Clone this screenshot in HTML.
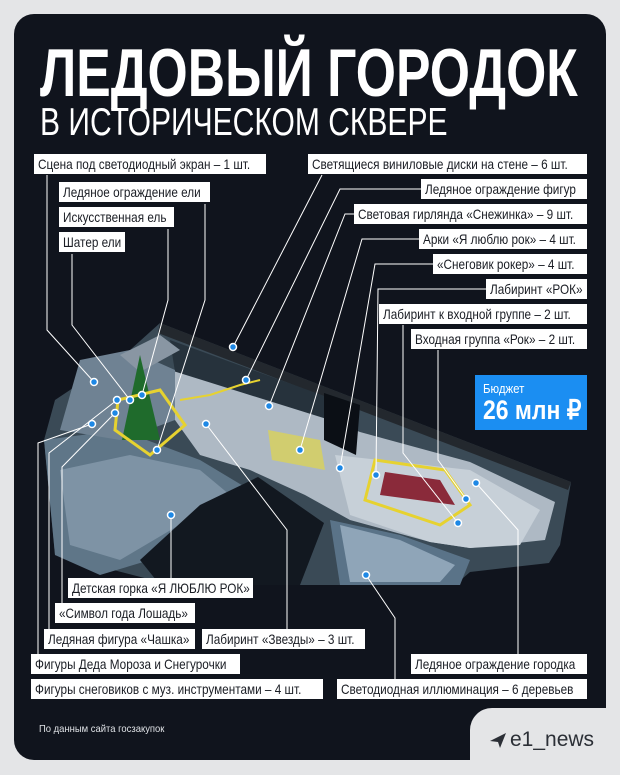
<!DOCTYPE html>
<html><head><meta charset="utf-8"><style>
*{margin:0;padding:0;box-sizing:border-box}
body{width:620px;height:775px;background:#e4e5e7;position:relative;overflow:hidden;font-family:"Liberation Sans Narrow","Liberation Sans",sans-serif}
#card{position:absolute;left:14px;top:14px;width:592px;height:746px;background:#10141d;border-radius:20px}
#notch{position:absolute;left:470px;top:708px;width:150px;height:67px;background:#e4e5e7;border-top-left-radius:22px}
.t1{position:absolute;left:40px;top:34px;font-size:68px;font-weight:bold;color:#fff;white-space:nowrap;transform-origin:0 0;transform:scaleX(0.76)}
.t2{position:absolute;left:40px;top:101px;font-size:39px;color:#fff;white-space:nowrap;transform-origin:0 0;transform:scaleX(0.77)}
.lb{position:absolute;background:#fff;color:#1a1d24;font-size:14px;height:20px;line-height:20px;padding:0 4px;white-space:nowrap;overflow:hidden}
.lb span{display:inline-block;transform-origin:0 50%;transform:scaleX(0.84)}
#bud{position:absolute;left:475px;top:375px;width:112px;height:55px;background:#1b8ef2;color:#fff;white-space:nowrap}
svg{position:absolute;left:0;top:0}
</style></head><body>
<div id="card"></div>
<div id="notch"></div>
<div class="t1">ЛЕДОВЫЙ ГОРОДОК</div>
<div class="t2">В ИСТОРИЧЕСКОМ СКВЕРЕ</div>
<svg width="620" height="775">
<polygon points="160,323 571,482 560,545 549,563 470,572 455,585 300,585 160,582 55,555 44,440 55,400 130,350" fill="#3a4a56"/>
<polygon points="44,440 120,430 200,460 250,490 150,560 100,575 55,555" fill="#5f7688"/>
<polygon points="60,470 130,455 200,470 230,495 120,560 70,545" fill="#7e93a5"/>
<polygon points="330,520 400,535 470,560 460,585 340,585" fill="#5a7388"/>
<polygon points="340,525 400,540 455,565 440,582 350,582" fill="#8fa5b8"/>
<polygon points="200,505 258,477 324,523 300,585 160,585 140,560" fill="#121820"/>
<polygon points="160,323 571,482 568,490 158,333" fill="#23282e"/>
<polygon points="170,340 330,398 328,420 175,372" fill="#26323c"/>
<polygon points="170,370 330,420 360,432 470,462 555,502 545,540 470,548 430,542 350,520 305,495 250,470 200,455 175,420" fill="#aeb9c4"/>
<polygon points="324,393 360,405 356,455 324,440" fill="#0b0f15"/>
<polygon points="80,360 130,350 175,370 175,420 120,440 60,430" fill="#6f8293"/>
<polygon points="120,355 160,335 180,350 140,372" fill="#8996a3"/>
<polygon points="335,455 470,470 540,510 520,545 470,548 430,542 350,515" fill="#c7d0d8"/>
<polygon points="140,355 160,440 122,440" fill="#1f6b2c"/>
<polygon points="118,400 160,390 185,425 150,455 115,430" fill="none" stroke="#e6d230" stroke-width="3"/>
<polygon points="375,460 445,470 470,505 440,525 365,500" fill="none" stroke="#e6d230" stroke-width="3"/>
<polygon points="385,472 440,480 455,505 380,495" fill="#8a2a3a"/>
<polygon points="268,430 320,440 325,470 272,460" fill="#d9d25a" opacity=".8"/>
<polyline points="180,400 210,395 240,385 260,380" fill="none" stroke="#e6d230" stroke-width="2"/>
<g fill="none" stroke="#fff" stroke-width="1">
<polyline points="47,175 47,330 94,382"/>
<polyline points="72,254 72,325 130,400"/>
<polyline points="168,229 168,300 142,395"/>
<polyline points="205,204 205,300 157,450"/>
<polyline points="322,175 233,347"/>
<polyline points="421,189 340,189 246,380"/>
<polyline points="354,214 345,214 269,406"/>
<polyline points="419,239 362,239 300,450"/>
<polyline points="433,264 375,264 340,468"/>
<polyline points="486,289 378,289 376,475"/>
<polyline points="403,325 403,453 458,523"/>
<polyline points="438,350 438,460 466,499"/>
<polyline points="518,655 518,530 476,483"/>
<polyline points="395,680 395,618 366,575"/>
<polyline points="171,515 171,579"/>
<polyline points="62,604 62,467 115,413"/>
<polyline points="49,630 49,453 117,400"/>
<polyline points="38,655 38,443 92,424"/>
<polyline points="287,630 287,530 206,424"/>
</g>
<g fill="#1e88e5" stroke="#fff" stroke-width="1.5">
<circle cx="94" cy="382" r="3.5"/><circle cx="130" cy="400" r="3.5"/><circle cx="142" cy="395" r="3.5"/><circle cx="157" cy="450" r="3.5"/><circle cx="233" cy="347" r="3.5"/><circle cx="246" cy="380" r="3.5"/><circle cx="269" cy="406" r="3.5"/><circle cx="300" cy="450" r="3.5"/><circle cx="340" cy="468" r="3.5"/><circle cx="376" cy="475" r="3.5"/><circle cx="458" cy="523" r="3.5"/><circle cx="466" cy="499" r="3.5"/><circle cx="476" cy="483" r="3.5"/><circle cx="366" cy="575" r="3.5"/><circle cx="171" cy="515" r="3.5"/><circle cx="115" cy="413" r="3.5"/><circle cx="117" cy="400" r="3.5"/><circle cx="92" cy="424" r="3.5"/><circle cx="206" cy="424" r="3.5"/>
</g>
<polygon points="490,741 506,733 500,748 498,742" fill="#2b2f36"/>
</svg>
<div class="lb" style="left:34px;top:154px;width:232px"><span>Сцена под светодиодный экран – 1 шт.</span></div>
<div class="lb" style="left:59px;top:182px;width:151px"><span>Ледяное ограждение ели</span></div>
<div class="lb" style="left:59px;top:207px;width:115px"><span>Искусственная ель</span></div>
<div class="lb" style="left:59px;top:232px;width:66px"><span>Шатер ели</span></div>
<div class="lb" style="left:308px;top:154px;width:279px"><span>Светящиеся виниловые диски на стене – 6 шт.</span></div>
<div class="lb" style="left:421px;top:179px;width:166px"><span>Ледяное ограждение фигур</span></div>
<div class="lb" style="left:354px;top:204px;width:233px"><span>Световая гирлянда «Снежинка» – 9 шт.</span></div>
<div class="lb" style="left:419px;top:229px;width:168px"><span>Арки «Я люблю рок» – 4 шт.</span></div>
<div class="lb" style="left:433px;top:254px;width:154px"><span>«Снеговик рокер» – 4 шт.</span></div>
<div class="lb" style="left:486px;top:279px;width:101px"><span>Лабиринт «РОК»</span></div>
<div class="lb" style="left:379px;top:304px;width:208px"><span>Лабиринт к входной группе – 2 шт.</span></div>
<div class="lb" style="left:411px;top:329px;width:176px"><span>Входная группа «Рок» – 2 шт.</span></div>
<div id="bud"><div style="position:absolute;left:8px;top:6px;font-size:13px;transform-origin:0 0;transform:scaleX(.88)">Бюджет</div><div style="position:absolute;left:8px;top:20px;font-size:27px;font-weight:bold;transform-origin:0 0;transform:scaleX(.85)">26 млн ₽</div></div>
<div class="lb" style="left:68px;top:578px;width:185px"><span>Детская горка «Я ЛЮБЛЮ РОК»</span></div>
<div class="lb" style="left:55px;top:603px;width:140px"><span>«Символ года Лошадь»</span></div>
<div class="lb" style="left:44px;top:629px;width:151px"><span>Ледяная фигура «Чашка»</span></div>
<div class="lb" style="left:202px;top:629px;width:163px"><span>Лабиринт «Звезды» – 3 шт.</span></div>
<div class="lb" style="left:31px;top:654px;width:209px"><span>Фигуры Деда Мороза и Снегурочки</span></div>
<div class="lb" style="left:31px;top:679px;width:292px"><span>Фигуры снеговиков с муз. инструментами – 4 шт.</span></div>
<div class="lb" style="left:411px;top:654px;width:176px"><span>Ледяное ограждение городка</span></div>
<div class="lb" style="left:337px;top:679px;width:250px"><span>Светодиодная иллюминация – 6 деревьев</span></div>
<div style="position:absolute;left:39px;top:723px;font-size:10.5px;color:#dfe2e6;transform-origin:0 0;transform:scaleX(.9)">По данным сайта госзакупок</div>
<div style="position:absolute;left:510px;top:728px;font-size:21px;color:#2b2f36;font-family:'Liberation Sans',sans-serif">e1_news</div>
</body></html>
